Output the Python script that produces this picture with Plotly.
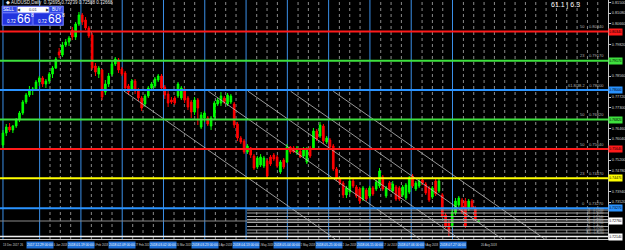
import plotly.graph_objects as go

# ---------------- data (prices) ----------------
opens = [0.7580,0.7628,0.7652,0.7640,0.7656,0.7680,0.7708,0.7752,0.7780,0.7800,
         0.7804,0.7832,0.7848,0.7824,0.7836,0.7864,0.7888,0.7952,0.7940,0.7980,
         0.7992,0.8040,0.8012,0.8064,0.8100,0.8080,0.8048,0.8020,0.7896,0.7864,
         0.7880,0.7792,0.7824,0.7864,0.7904,0.7920,0.7884,0.7868,0.7816,0.7804,
         0.7836,0.7796,0.7768,0.7744,0.7776,0.7808,0.7816,0.7840,0.7856,0.7812,
         0.7784,0.7760,0.7768,0.7776,0.7768,0.7800,0.7768,0.7752,0.7712,0.7760,
         0.7652,0.7688,0.7688,0.7656,0.7692,0.7744,0.7748,0.7768,0.7744,0.7752,
         0.7744,0.7664,0.7608,0.7596,0.7552,0.7568,0.7536,0.7492,0.7500,0.7496,
         0.7516,0.7532,0.7540,0.7532,0.7472,0.7520,0.7512,0.7572,0.7568,0.7552,
         0.7556,0.7536,0.7512,0.7568,0.7568,0.7636,0.7616,0.7656,0.7592,0.7600,
         0.7576,0.7484,0.7444,0.7428,0.7380,0.7392,0.7436,0.7412,0.7404,0.7364,
         0.7400,0.7376,0.7408,0.7404,0.7416,0.7452,0.7376,0.7428,0.7396,0.7412,
         0.7408,0.7380,0.7368,0.7392,0.7456,0.7404,0.7416,0.7440,0.7424,0.7408,
         0.7372,0.7436,0.7396,0.7380,0.7300,0.7272,0.7256,0.7308,0.7340,0.7360,
         0.7356,0.7324,0.7356,0.7328,0.7272]
highs = [0.7640,0.7664,0.7668,0.7660,0.7688,0.7716,0.7760,0.7788,0.7816,0.7812,
         0.7840,0.7856,0.7856,0.7844,0.7872,0.7896,0.7932,0.7968,0.7992,0.8004,
         0.8016,0.8052,0.8072,0.8112,0.8108,0.8092,0.8056,0.8028,0.7908,0.7896,
         0.7884,0.7840,0.7868,0.7916,0.7932,0.7928,0.7892,0.7876,0.7824,0.7844,
         0.7844,0.7808,0.7776,0.7784,0.7816,0.7832,0.7852,0.7864,0.7864,0.7820,
         0.7796,0.7772,0.7776,0.7832,0.7816,0.7808,0.7776,0.7760,0.7772,0.7768,
         0.7712,0.7716,0.7696,0.7696,0.7756,0.7768,0.7792,0.7776,0.7788,0.7784,
         0.7752,0.7672,0.7616,0.7604,0.7584,0.7572,0.7544,0.7536,0.7544,0.7536,
         0.7524,0.7540,0.7548,0.7540,0.7520,0.7528,0.7584,0.7576,0.7576,0.7576,
         0.7564,0.7572,0.7572,0.7576,0.7648,0.7644,0.7672,0.7664,0.7616,0.7608,
         0.7584,0.7492,0.7448,0.7436,0.7416,0.7444,0.7444,0.7420,0.7412,0.7416,
         0.7408,0.7416,0.7416,0.7440,0.7488,0.7460,0.7416,0.7436,0.7436,0.7420,
         0.7416,0.7420,0.7428,0.7456,0.7464,0.7436,0.7444,0.7444,0.7432,0.7416,
         0.7416,0.7444,0.7444,0.7388,0.7308,0.7280,0.7324,0.7368,0.7376,0.7368,
         0.7368,0.7364,0.7364,0.7336,0.7280]
lows = [0.7560,0.7616,0.7632,0.7628,0.7648,0.7672,0.7700,0.7744,0.7772,0.7780,
        0.7796,0.7816,0.7812,0.7808,0.7824,0.7848,0.7884,0.7928,0.7932,0.7972,
        0.7976,0.8000,0.8000,0.8056,0.8060,0.8040,0.8008,0.7880,0.7856,0.7848,
        0.7760,0.7780,0.7812,0.7856,0.7896,0.7868,0.7856,0.7796,0.7780,0.7796,
        0.7784,0.7756,0.7716,0.7732,0.7768,0.7796,0.7808,0.7832,0.7796,0.7764,
        0.7732,0.7744,0.7740,0.7768,0.7760,0.7748,0.7720,0.7688,0.7700,0.7660,
        0.7644,0.7672,0.7656,0.7640,0.7684,0.7736,0.7736,0.7744,0.7736,0.7744,
        0.7648,0.7596,0.7584,0.7544,0.7544,0.7528,0.7480,0.7484,0.7492,0.7488,
        0.7448,0.7496,0.7516,0.7488,0.7464,0.7484,0.7508,0.7544,0.7548,0.7540,
        0.7528,0.7528,0.7504,0.7528,0.7560,0.7596,0.7608,0.7584,0.7584,0.7564,
        0.7476,0.7436,0.7420,0.7368,0.7368,0.7384,0.7408,0.7368,0.7344,0.7356,
        0.7356,0.7368,0.7376,0.7396,0.7408,0.7396,0.7368,0.7396,0.7388,0.7356,
        0.7356,0.7372,0.7360,0.7384,0.7408,0.7396,0.7408,0.7420,0.7380,0.7352,
        0.7364,0.7376,0.7388,0.7288,0.7248,0.7212,0.7248,0.7300,0.7332,0.7304,
        0.7248,0.7316,0.7324,0.7276,0.7268]
closes = [0.7628,0.7652,0.7640,0.7656,0.7680,0.7708,0.7752,0.7780,0.7800,0.7804,
          0.7832,0.7848,0.7824,0.7836,0.7864,0.7888,0.7924,0.7940,0.7980,0.7992,
          0.8008,0.8012,0.8064,0.8100,0.8072,0.8048,0.8016,0.7888,0.7872,0.7888,
          0.7772,0.7824,0.7856,0.7904,0.7924,0.7880,0.7864,0.7808,0.7792,0.7836,
          0.7796,0.7768,0.7728,0.7776,0.7808,0.7824,0.7844,0.7856,0.7808,0.7780,
          0.7748,0.7752,0.7748,0.7824,0.7808,0.7760,0.7732,0.7712,0.7760,0.7728,
          0.7700,0.7708,0.7664,0.7688,0.7748,0.7760,0.7776,0.7752,0.7780,0.7776,
          0.7660,0.7608,0.7592,0.7552,0.7576,0.7540,0.7488,0.7528,0.7532,0.7528,
          0.7456,0.7504,0.7524,0.7496,0.7512,0.7492,0.7572,0.7552,0.7552,0.7568,
          0.7532,0.7564,0.7560,0.7536,0.7636,0.7604,0.7660,0.7596,0.7608,0.7572,
          0.7484,0.7444,0.7428,0.7380,0.7408,0.7436,0.7416,0.7376,0.7356,0.7408,
          0.7364,0.7408,0.7384,0.7432,0.7476,0.7404,0.7408,0.7404,0.7424,0.7364,
          0.7364,0.7412,0.7420,0.7448,0.7416,0.7428,0.7436,0.7428,0.7388,0.7360,
          0.7408,0.7384,0.7436,0.7296,0.7256,0.7236,0.7312,0.7356,0.7368,0.7312,
          0.7256,0.7356,0.7332,0.7284,0.7276]
bars = list(range(len(closes)))

# horizontal levels drawn on the chart
level_prices = [0.8034, 0.7917, 0.7800, 0.7682, 0.7564, 0.7447, 0.7327]
level_colors = ['#ff1a1a', '#3ee03e', '#2a93ff', '#3ee03e', '#ff1a1a', '#ffff00', '#2a93ff']
level_tags = ['50', '23', '61.8/38.2', '50', '50', '23', '0']
fan_prices = [0.7320, 0.7308, 0.7294, 0.7282, 0.7270, 0.7254, 0.7240, 0.7228]
fan_tags = ['23', '38', '50', '61', '76', '88', '100', '161']
low_line_price = 0.7214
# descending channel lines: (start bar, start price, end bar, end price)
channel_lines = [(36.6, 0.7796, 100.6, 0.7204), (62.2, 0.7795, 126.2, 0.7204),
                 (74.2, 0.7795, 138.2, 0.7204), (87.1, 0.7795, 151.1, 0.7204),
                 (100.0, 0.7795, 164.0, 0.7204)]
# price-axis ticks
axis_tick0, axis_dtick, axis_nticks = 0.7226, 0.0042, 23
# time axis labels (the second one is mostly hidden behind the first line label)
time_label_bars = [-0.6, 7.1, 17.4, 29.9, 42.3, 54.8, 67.3, 79.8, 92.3, 104.8, 117.3, 129.8, 144.0]
time_labels = ['13 Dec 2017', '26', '16 Jan 2018', '6 Feb 2018', '27 Feb 2018',
               '20 Mar 2018', '10 Apr 2018', '1 May 2018', '22 May 2018', '12 Jun 2018',
               '17 Jul 2018', '9 Aug 2018', '20 Aug 2018']
vline_bars = [11.1, 23.6, 36.1, 48.6, 61.1, 73.6, 86.1, 98.6, 111.1, 123.6, 136.1]
vline_labels = ['2017.12.29 00:00', '2018.01.19 00:00', '2018.02.09 00:00', '2018.03.02 00:00',
                '2018.03.23 00:00', '2018.04.13 00:00', '2018.05.04 00:00', '2018.05.25 00:00',
                '2018.06.15 00:00', '2018.07.06 00:00', '2018.07.27 00:00']

# ---------------- geometry helpers ----------------
PW, PH = 613.0, 239.0
def xp(px): return px / PW
def yp(py): return 1 - py / PH

fig = go.Figure()
fig.add_trace(go.Candlestick(
    x=bars, open=opens, high=highs, low=lows, close=closes,
    increasing=dict(line=dict(color='#00ff00', width=1), fillcolor='#00ff00'),
    decreasing=dict(line=dict(color='#ff0000', width=1), fillcolor='#ff0000'),
    whiskerwidth=0, hoverinfo='skip', showlegend=False))

shapes = []
# grid: dotted verticals and blue solid verticals
k = 0
gx = 40.0
while gx < PW:
    if k % 4 != 0 or gx > 460:
        shapes.append(dict(type='line', xref='paper', yref='paper', x0=xp(gx), x1=xp(gx), y0=0, y1=1,
                           line=dict(color='#8a8a8a', width=1, dash='dot'), layer='below'))
    k += 1
    gx += 10.42
shapes.append(dict(type='line', xref='x', yref='paper', x0=0, x1=0, y0=0, y1=1,
                   line=dict(color='#3a8fe8', width=1), layer='below'))
for b in vline_bars:
    shapes.append(dict(type='line', xref='x', yref='paper', x0=b, x1=b, y0=0, y1=1,
                       line=dict(color='#3a8fe8', width=1), layer='below'))
# fan lines
for p in fan_prices:
    shapes.append(dict(type='line', xref='x', yref='y', x0=73.9, x1=183.2, y0=p, y1=p,
                       line=dict(color='#a8a8a8', width=1), layer='above'))
# bid line
shapes.append(dict(type='line', xref='paper', yref='y', x0=0, x1=1, y0=closes[-1], y1=closes[-1],
                   line=dict(color='#8a8a8a', width=1), layer='above'))
# low white line
shapes.append(dict(type='line', xref='paper', yref='y', x0=0, x1=1, y0=low_line_price, y1=low_line_price,
                   line=dict(color='#f0f0f0', width=1.6), layer='above'))
# channel lines
for (b0, p0, b1, p1) in channel_lines:
    shapes.append(dict(type='line', xref='x', yref='y', x0=b0, x1=b1, y0=p0, y1=p1,
                       line=dict(color='#bdbdbd', width=0.8), layer='above'))
# horizontal levels
for p, c in zip(level_prices, level_colors):
    shapes.append(dict(type='line', xref='paper', yref='y', x0=0, x1=1, y0=p, y1=p,
                       line=dict(color=c, width=2), layer='above'))

# one-click trading panel
def rect(x0, y0, x1, y1, fill, line='#7f8cff'):
    shapes.append(dict(type='rect', xref='paper', yref='paper', x0=xp(x0), x1=xp(x1), y0=yp(y0), y1=yp(y1),
                       fillcolor=fill, line=dict(color=line, width=0.6), layer='above'))
rect(2, 6, 64, 25.5, '#1d2bd0')
rect(2.5, 6.5, 17, 12.5, '#2f47e6')
rect(18, 7, 49, 12.5, '#ffffff', '#ffffff')
rect(50, 6.5, 63.5, 12.5, '#2f47e6')
rect(2.5, 13, 32.5, 25, '#2234de')
rect(33.5, 13, 63.5, 25, '#2234de')

ann = []
def txt(x, y, s, size=5, color='#ffffff', xa='left', ya='middle', **kw):
    ann.append(dict(xref='paper', yref='paper', x=xp(x), y=yp(y), text=s, showarrow=False,
                    xanchor=xa, yanchor=ya, font=dict(size=size, color=color, family='Arial'), **kw))

txt(4, 2.6, '\u25c6 AUDUSD,Daily  0.72695 0.72739 0.72588 0.72668', size=4.5, color='#e8e8e8')
txt(9.5, 9.6, 'SELL', size=4.5, xa='center')
txt(56.7, 9.6, 'BUY', size=4.5, xa='center')
txt(33.5, 9.8, '\u25c0        0.01        \u25b6', size=4, color='#333333', xa='center')
txt(5, 21.5, '0.72', size=4.5)
txt(15, 19, '66', size=12)
txt(29, 15.5, '8', size=5)
txt(36, 21.5, '0.72', size=4.5)
txt(46, 19, '68', size=12)
txt(60, 15.5, '8', size=5)
txt(570, 4.5, '61.1 | 6.3', size=7, xa='center')

# level text labels and axis price boxes
box_prices = level_prices + [closes[-1], low_line_price]
for p, c, t in zip(level_prices, level_colors, level_tags):
    ann.append(dict(xref='paper', yref='y', x=xp(611), y=p, text=f'{t}    {p:.5f}', showarrow=False,
                    xanchor='right', yanchor='bottom', yshift=0.5,
                    font=dict(size=4, color='#b0b0b0', family='Arial')))
    ann.append(dict(xref='paper', yref='y', x=1.0, y=p, text=f'{p:.5f}', showarrow=False,
                    xanchor='left', yanchor='middle', bgcolor=c, borderpad=0.5, width=12, height=5,
                    font=dict(size=3.6, color='#000000', family='Arial')))
for p, t in zip(fan_prices, fan_tags):
    ann.append(dict(xref='paper', yref='y', x=xp(611), y=p, text=f'{t}    {p:.5f}', showarrow=False,
                    xanchor='right', yanchor='middle',
                    font=dict(size=2.8, color='#b0b0b0', family='Arial')))
for p in [closes[-1], low_line_price]:
    ann.append(dict(xref='paper', yref='y', x=1.0, y=p, text=f'{p:.5f}', showarrow=False,
                    xanchor='left', yanchor='middle', bgcolor='#ffffff', borderpad=0.5, width=12, height=5,
                    font=dict(size=3.6, color='#000000', family='Arial')))

# axis ticks, leaving out the ones hidden under the price boxes
tickvals = []
for n in range(axis_nticks):
    v = round(axis_tick0 + n * axis_dtick, 5)
    if all(abs(v - q) > 0.0024 for q in box_prices):
        tickvals.append(v)

# time axis labels
for i, (b, t) in enumerate(zip(time_label_bars, time_labels)):
    if i == 0 or i == len(time_labels) - 1:
        xa = 'left'
    elif i == 1:
        xa = 'right'
    else:
        xa = 'center'
    ann.append(dict(xref='x', yref='paper', x=b, y=yp(244.5), text=t, showarrow=False,
                    xanchor=xa, yanchor='middle', font=dict(size=2.8, color='#d0d0d0', family='Arial')))
for b, t in zip(vline_bars, vline_labels):
    ann.append(dict(xref='x', yref='paper', x=b, y=yp(244.5), text=t, showarrow=False,
                    xanchor='center', yanchor='middle', bgcolor='#1f6fd6', width=26, height=6, borderpad=0,
                    font=dict(size=3.3, color='#ffffff', family='Arial')))

fig.update_layout(
    width=625, height=250, margin=dict(l=0, r=12, t=0, b=11),
    paper_bgcolor='#000000', plot_bgcolor='#000000',
    shapes=shapes, annotations=ann, showlegend=False,
    xaxis=dict(range=[-0.9, 183.18], showgrid=False, zeroline=False, showticklabels=False,
               showline=True, linecolor='#c8c8c8', linewidth=1, rangeslider=dict(visible=False),
               fixedrange=True),
    yaxis=dict(range=[0.7204, 0.8160], side='right', showgrid=False, zeroline=False,
               tickmode='array', tickvals=tickvals, tickformat='.5f', ticks='outside', ticklen=2,
               tickcolor='#c8c8c8', tickfont=dict(size=3.8, color='#d0d0d0', family='Arial'),
               showline=True, linecolor='#c8c8c8', linewidth=1, fixedrange=True),
)
fig.write_html('out.html')
